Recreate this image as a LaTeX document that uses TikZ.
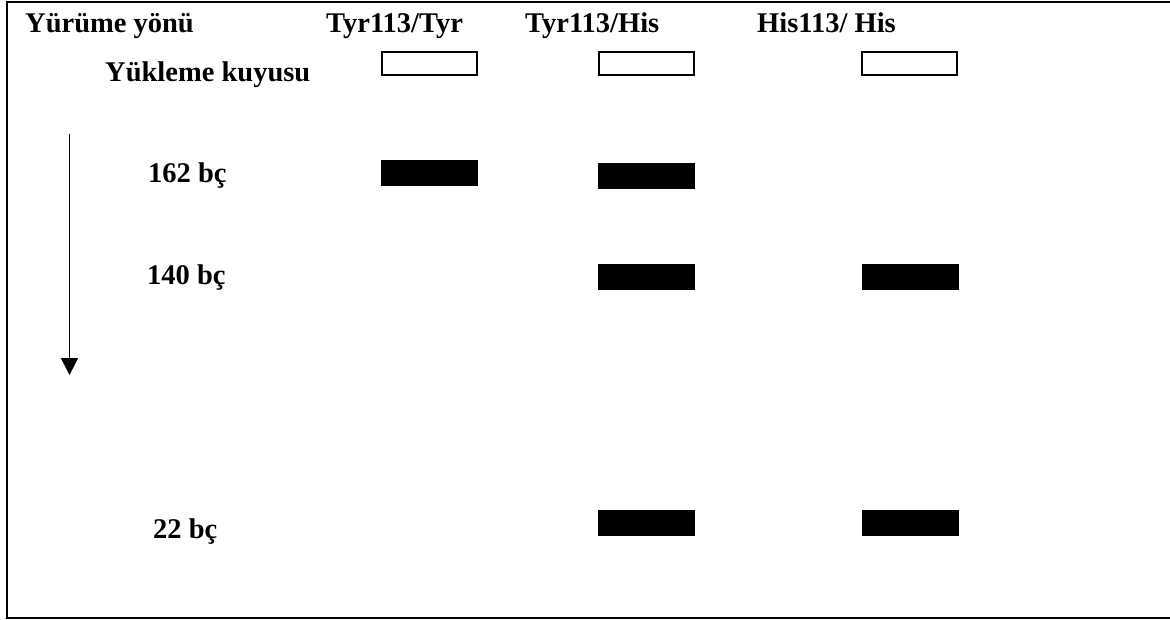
\documentclass[tikz,border=0pt]{standalone}
\usepackage{fontspec}
\setmainfont{Liberation Serif}
\usetikzlibrary{arrows.meta}
\tikzset{
  lbl/.style={anchor=base west, inner sep=0pt, font=\bfseries\fontsize{28.5}{34}\selectfont},
  well/.style={draw=black, line width=2pt, fill=white, minimum width=95pt, minimum height=23pt, inner sep=0pt},
  band/.style={fill=black, minimum width=97pt, minimum height=26pt, inner sep=0pt},
  frame/.style={line width=2pt},
}
\begin{document}
\begin{tikzpicture}[x=1pt,y=-1pt]
\useasboundingbox (0,0) rectangle (1170,620);
% frame
\coordinate (fTR) at (1171,2);
\coordinate (fTL) at (7,2);
\coordinate (fBL) at (7,617.5);
\coordinate (fBR) at (1171,617.5);
\draw[frame] (fTR) -- (fTL) -- (fBL) -- (fBR);
% labels
\node[lbl] (yon) at (25,33) {Yürüme yönü};
\node[lbl] (h1) at (326,33) {Tyr113/Tyr};
\node[lbl] (h2) at (525,33) {Tyr113/His};
\node[lbl] (h3) at (757,33) {His113/ His};
\node[lbl] (kuyu) at (105,82) {Yükleme kuyusu};
\node[lbl] (b162) at (148,183) {162 bç};
\node[lbl] (b140) at (147,285) {140 bç};
\node[lbl] (b22) at (153,538) {22 bç};
% wells
\node[well] (w1) at (429.5,63.5) {};
\node[well] (w2) at (646,63.5) {};
\node[well] (w3) at (909.5,63.5) {};
% bands
\node[band] (l1a) at (429.5,173.2) {};
\node[band] (l2a) at (646,176) {};
\node[band] (l2b) at (646,277.2) {};
\node[band] (l3b) at (910,277.2) {};
\node[band] (l2c) at (646,523) {};
\node[band] (l3c) at (910,523) {};
% arrow
\coordinate (aS) at (69.5,134);
\coordinate (aE) at (69.5,375);
\draw[line width=1.5pt, -{Triangle[width=17pt,length=17pt]}] (aS) -- (aE);
\end{tikzpicture}
\end{document}
